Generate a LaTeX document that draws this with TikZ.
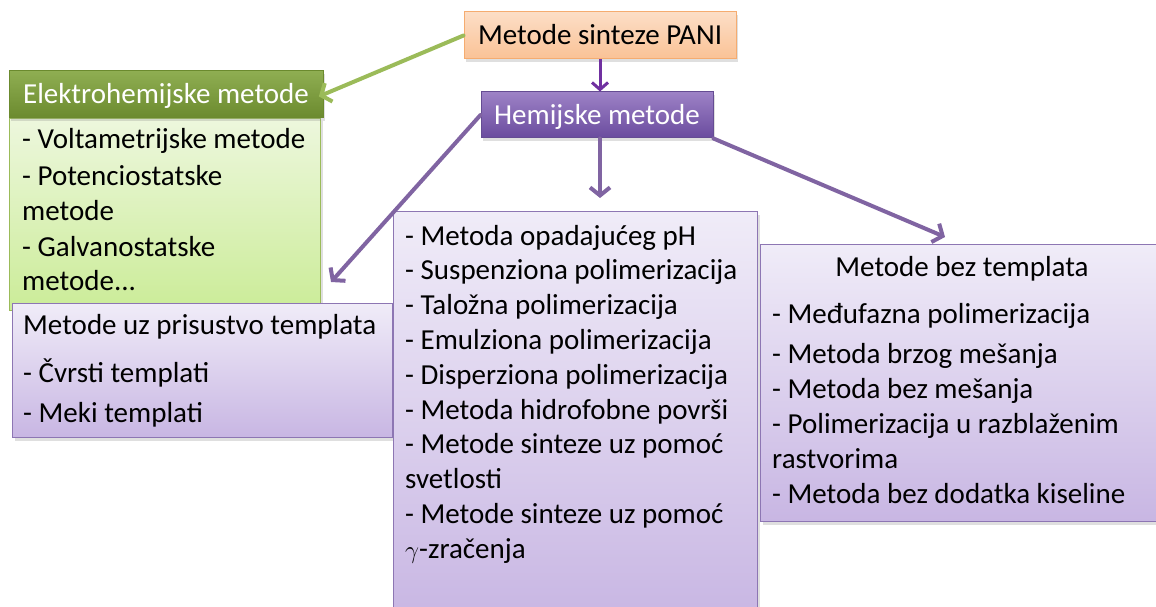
\documentclass[tikz,border=0pt]{standalone}
\usepackage{fontspec}
\setmainfont{Carlito}
\usetikzlibrary{arrows.meta,shadows}
\definecolor{zelenagore}{HTML}{EDF7DD}
\definecolor{zelenadole}{HTML}{CBEC98}
\definecolor{zelenaokvir}{HTML}{9BBB59}
\definecolor{maslinagore}{HTML}{8FAE52}
\definecolor{maslinadole}{HTML}{6B8A2E}
\definecolor{lilagore}{HTML}{F0ECF8}
\definecolor{liladole}{HTML}{C8B6E3}
\definecolor{lilaokvir}{HTML}{8D76B3}
\definecolor{narandzagore}{HTML}{FCDEC6}
\definecolor{narandzadole}{HTML}{FAC296}
\definecolor{narandzaokvir}{HTML}{F5AC70}
\definecolor{ljubgore}{HTML}{9D82C6}
\definecolor{ljubdole}{HTML}{6A4B9E}
\definecolor{ljubokvir}{HTML}{654C93}
\definecolor{strelica}{HTML}{8064A2}
\definecolor{tamna}{HTML}{7030A0}
\tikzset{
    senka/.style={drop shadow={opacity=0.25,shadow xshift=2pt,shadow yshift=-3pt}},
    okvir/.style={senka,draw,line width=1pt,inner sep=0pt},
    zelenbox/.style={okvir,anchor=north west,draw=zelenaokvir,top color=zelenagore,bottom color=zelenadole},
    lilabox/.style={okvir,anchor=north west,draw=lilaokvir,top color=lilagore,bottom color=liladole},
    naslov/.style={okvir,text height=19pt,text depth=0pt},
    lbl/.style={anchor=base west,inner sep=0pt},
    veza/.style={line width=4pt,line cap=round,-{Straight Barb[length=8pt,width=20pt,line width=4pt]}}
}
\begin{document}
\begin{tikzpicture}[x=1pt,y=-1pt,font=\fontsize{29}{35}\selectfont]
\useasboundingbox (0,0) rectangle (1156,607);
\clip (0,0) rectangle (1156,607);
% okviri
\node[zelenbox,minimum width=311pt,minimum height=192pt] (elbody) at (9,118) {};
\node[naslov,draw=maslinadole,top color=maslinagore,bottom color=maslinadole,text=white,
    minimum width=314pt,minimum height=47pt] (elhead) at (166,94.5) {Elektrohemijske metode};
\node[lilabox,minimum width=380pt,minimum height=134pt] (tpl) at (12,303) {};
\node[lilabox,minimum width=364pt,minimum height=410pt] (mid) at (393,211) {};
\node[lilabox,minimum width=400pt,minimum height=277pt] (bez) at (760,244) {};
\node[naslov,draw=narandzaokvir,top color=narandzagore,bottom color=narandzadole,
    minimum width=272pt,minimum height=47pt] (pani) at (600,35.5) {Metode sinteze PANI};
\node[naslov,draw=ljubokvir,top color=ljubgore,bottom color=ljubdole,text=white,
    minimum width=232pt,minimum height=46pt] (hem) at (597,115) {Hemijske metode};
% tekst
\path
(22,149) node[lbl] (el1) {- Voltametrijske metode}
(22,185) node[lbl] (el2) {- Potenciostatske}
(22,220) node[lbl] (el3) {metode}
(22,256) node[lbl] (el4) {- Galvanostatske}
(22,290) node[lbl] (el5) {metode...}
(23,334) node[lbl] (tpl0) {Metode uz prisustvo templata}
(23,382) node[lbl] (tpl1) {- Čvrsti templati}
(23,422) node[lbl] (tpl2) {- Meki templati}
(962,276) node[lbl,anchor=base] (bez0) {Metode bez templata}
(772,323) node[lbl] (bez1) {- Međufazna polimerizacija}
(772,363) node[lbl] (bez2) {- Metoda brzog mešanja}
(772,398) node[lbl] (bez3) {- Metoda bez mešanja}
(772,433) node[lbl] (bez4) {- Polimerizacija u razblaženim}
(772,468) node[lbl] (bez5) {rastvorima}
(772,503) node[lbl] (bez6) {- Metoda bez dodatka kiseline}
;
\foreach \t [count=\i from 0] in {- Metoda opadajućeg pH,- Suspenziona polimerizacija,
    - Taložna polimerizacija,- Emulziona polimerizacija,- Disperziona polimerizacija,
    - Metoda hidrofobne površi,- Metode sinteze uz pomoć,svetlosti,
    - Metode sinteze uz pomoć,$\gamma$-zračenja}
    \node[lbl] (mid\i) at (405,245+34.8*\i) {\t};
% strelice
\coordinate (tplin) at (331,282);
\coordinate (midin) at (600,198);
\coordinate (bezin) at (945,237);
\draw[veza,zelenaokvir,shorten >=-5pt] (pani.west) -- (elhead.east);
\draw[tamna,line width=3pt,-{Straight Barb[length=7pt,width=16pt,line width=3pt]}] (pani.south) -- (pani.south |- hem.north);
\draw[veza,strelica] (hem.west) -- (tplin);
\draw[veza,strelica] (hem.south -| midin) -- (midin);
\draw[veza,strelica] (hem.south east) -- (bezin);
\end{tikzpicture}
\end{document}
